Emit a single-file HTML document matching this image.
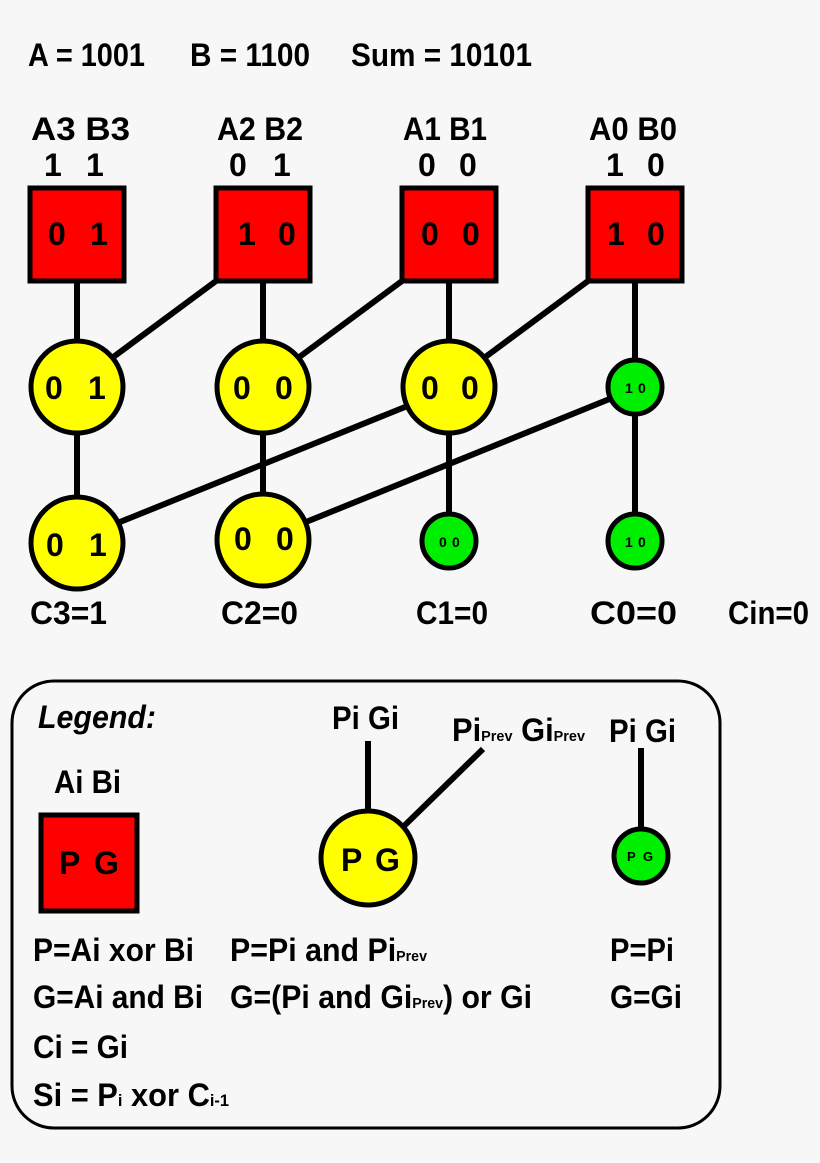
<!DOCTYPE html>
<html><head><meta charset="utf-8"><style>
html,body{margin:0;padding:0;background:#f7f7f7;}
svg text{font-family:"Liberation Sans Narrow","Liberation Sans",sans-serif;font-weight:bold;fill:#000;}
</style></head><body>
<svg width="820" height="1158" viewBox="0 0 820 1158" xmlns="http://www.w3.org/2000/svg">
<rect width="820" height="1158" fill="#f7f7f7"/>
<g font-size="32">
<text x="28" y="66" textLength="117" lengthAdjust="spacingAndGlyphs">A = 1001</text>
<text x="190" y="66" textLength="120" lengthAdjust="spacingAndGlyphs">B = 1100</text>
<text x="351" y="66" textLength="181" lengthAdjust="spacingAndGlyphs">Sum = 10101</text>
<text x="31" y="140" textLength="99" lengthAdjust="spacingAndGlyphs">A3 B3</text>
<text x="217" y="140" textLength="86" lengthAdjust="spacingAndGlyphs">A2 B2</text>
<text x="403" y="140" textLength="84" lengthAdjust="spacingAndGlyphs">A1 B1</text>
<text x="589" y="140" textLength="88" lengthAdjust="spacingAndGlyphs">A0 B0</text>
<text x="44" y="176">1</text><text x="86" y="176">1</text>
<text x="229" y="176">0</text><text x="273" y="176">1</text>
<text x="418" y="176">0</text><text x="459" y="176">0</text>
<text x="606" y="176">1</text><text x="647" y="176">0</text>
</g>
<g stroke="#000" stroke-width="6" fill="none">
<line x1="77" y1="281" x2="77" y2="345"/>
<line x1="263" y1="281" x2="263" y2="345"/>
<line x1="449" y1="281" x2="449" y2="345"/>
<line x1="635" y1="281" x2="635" y2="365"/>
<line x1="216" y1="281" x2="112" y2="358"/>
<line x1="402" y1="281" x2="298" y2="358"/>
<line x1="588" y1="281" x2="484" y2="358"/>
<line x1="77" y1="430" x2="77" y2="500"/>
<line x1="263" y1="430" x2="263" y2="500"/>
<line x1="449" y1="430" x2="449" y2="518"/>
<line x1="635" y1="410" x2="635" y2="518"/>
<line x1="405" y1="407" x2="120" y2="522"/>
<line x1="612" y1="398" x2="306" y2="522"/>
</g>
<g stroke="#000" stroke-width="5">
<rect x="30" y="188" width="94" height="93" fill="#ff0000"/>
<rect x="216" y="188" width="94" height="93" fill="#ff0000"/>
<rect x="402" y="188" width="94" height="93" fill="#ff0000"/>
<rect x="588" y="188" width="94" height="93" fill="#ff0000"/>
<circle cx="77" cy="387" r="46" fill="#ffff00"/>
<circle cx="263" cy="387" r="46" fill="#ffff00"/>
<circle cx="449" cy="387" r="46" fill="#ffff00"/>
<circle cx="635" cy="387" r="27" fill="#00ee00"/>
<circle cx="77" cy="543" r="46" fill="#ffff00"/>
<circle cx="263" cy="540" r="46" fill="#ffff00"/>
<circle cx="449" cy="541" r="27" fill="#00ee00"/>
<circle cx="635" cy="541" r="27" fill="#00ee00"/>
</g>
<g font-size="32">
<text x="48" y="245">0</text><text x="90" y="245">1</text>
<text x="238" y="245">1</text><text x="278" y="245">0</text>
<text x="421" y="245">0</text><text x="462" y="245">0</text>
<text x="607" y="245">1</text><text x="647" y="245">0</text>
<text x="45" y="399">0</text><text x="88" y="399">1</text>
<text x="233" y="399">0</text><text x="275" y="399">0</text>
<text x="421" y="399">0</text><text x="461" y="399">0</text>
<text x="46" y="556">0</text><text x="89" y="556">1</text>
<text x="234" y="550">0</text><text x="276" y="550">0</text>
<text x="30" y="624" textLength="77" lengthAdjust="spacingAndGlyphs">C3=1</text>
<text x="221" y="624" textLength="77" lengthAdjust="spacingAndGlyphs">C2=0</text>
<text x="416" y="624" textLength="72" lengthAdjust="spacingAndGlyphs">C1=0</text>
<text x="590" y="624" textLength="87" lengthAdjust="spacingAndGlyphs">C0=0</text>
<text x="728" y="624" textLength="81" lengthAdjust="spacingAndGlyphs">Cin=0</text>
</g>
<g font-size="14">
<text x="625" y="393">1</text><text x="638" y="393">0</text>
<text x="439" y="547">0</text><text x="452" y="547">0</text>
<text x="625" y="547">1</text><text x="638" y="547">0</text>
</g>
<rect x="12" y="681" width="708" height="447" rx="42" fill="none" stroke="#000" stroke-width="3"/>
<g stroke="#000" stroke-width="6">
<line x1="368" y1="741" x2="368" y2="812"/>
<line x1="483" y1="749" x2="404" y2="826"/>
<line x1="641" y1="748" x2="641" y2="828"/>
</g>
<g stroke="#000" stroke-width="5">
<rect x="41" y="815" width="96" height="96" fill="#ff0000"/>
<circle cx="368" cy="858" r="47" fill="#ffff00"/>
<circle cx="641" cy="856" r="27" fill="#00ee00"/>
</g>
<g font-size="32">
<text x="38" y="728" font-style="italic" textLength="118" lengthAdjust="spacingAndGlyphs">Legend:</text>
<text x="332" y="729" textLength="67" lengthAdjust="spacingAndGlyphs">Pi Gi</text>
<text x="452" y="741" textLength="133" lengthAdjust="spacingAndGlyphs">Pi<tspan font-size="15">Prev</tspan> Gi<tspan font-size="15">Prev</tspan></text>
<text x="609" y="742" textLength="67" lengthAdjust="spacingAndGlyphs">Pi Gi</text>
<text x="54" y="793" textLength="67" lengthAdjust="spacingAndGlyphs">Ai Bi</text>
<text x="59" y="874">P</text><text x="94" y="874">G</text>
<text x="341" y="871">P</text><text x="375" y="871">G</text>
<text x="33" y="961" textLength="161" lengthAdjust="spacingAndGlyphs">P=Ai xor Bi</text>
<text x="33" y="1008" textLength="170" lengthAdjust="spacingAndGlyphs">G=Ai and Bi</text>
<text x="33" y="1058" textLength="95" lengthAdjust="spacingAndGlyphs">Ci = Gi</text>
<text x="33" y="1106" textLength="196" lengthAdjust="spacingAndGlyphs">Si = P<tspan font-size="17">i</tspan> xor C<tspan font-size="17">i-1</tspan></text>
<text x="230" y="961" textLength="197" lengthAdjust="spacingAndGlyphs">P=Pi and Pi<tspan font-size="15">Prev</tspan></text>
<text x="230" y="1008" textLength="302" lengthAdjust="spacingAndGlyphs">G=(Pi and Gi<tspan font-size="15">Prev</tspan>) or Gi</text>
<text x="610" y="961" textLength="64" lengthAdjust="spacingAndGlyphs">P=Pi</text>
<text x="610" y="1008" textLength="72" lengthAdjust="spacingAndGlyphs">G=Gi</text>
</g>
<g font-size="13"><text x="627" y="861">P</text><text x="643" y="861">G</text></g>
</svg>
</body></html>
